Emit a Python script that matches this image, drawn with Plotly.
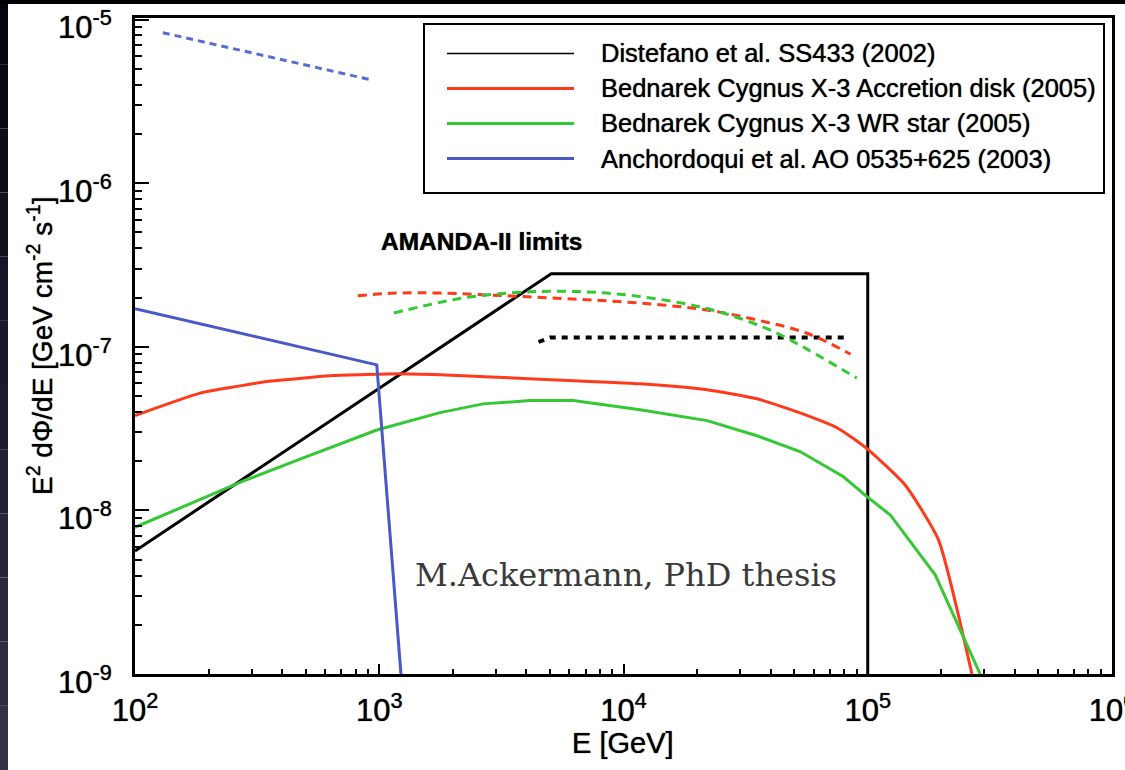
import plotly.graph_objects as go

# ---------------- data ----------------
series_names = [
    "Distefano et al. SS433 (2002)",
    "Bednarek Cygnus X-3 Accretion disk (2005)",
    "Bednarek Cygnus X-3 WR star (2005)",
    "Anchordoqui et al. AO 0535+625 (2003)",
]

# Distefano et al. SS433 model (black solid)
distefano_E = [100, 5060, 1.0e5, 1.0e5]
distefano_F = [5.65e-9, 2.80e-7, 2.80e-7, 1.0e-9]

# Bednarek Cygnus X-3 accretion disk (red solid)
disk_E = [100, 184.6, 266, 346, 520, 647, 1216, 1774, 4550, 11690, 21990, 35200,
          52800, 74900, 99500, 142300, 194800, 267000]
disk_F = [3.80e-8, 5.21e-8, 5.75e-8, 6.14e-8, 6.50e-8, 6.68e-8, 6.84e-8, 6.74e-8,
          6.34e-8, 5.94e-8, 5.46e-8, 4.81e-8, 3.95e-8, 3.20e-8, 2.38e-8, 1.43e-8,
          6.61e-9, 1.0e-9]

# Bednarek Cygnus X-3 WR star (green solid)
wr_E = [100, 184.6, 286, 474, 977, 1774, 2662, 4145, 6220, 11690, 21990, 35200,
        52800, 79300, 99500, 123700, 188900, 288600]
wr_F = [7.89e-9, 1.16e-8, 1.54e-8, 2.06e-8, 3.10e-8, 3.96e-8, 4.48e-8, 4.69e-8,
        4.69e-8, 4.12e-8, 3.54e-8, 2.86e-8, 2.29e-8, 1.61e-8, 1.21e-8, 9.38e-9,
        4.04e-9, 1.0e-9]

# Anchordoqui et al. AO 0535+625 (blue solid)
anch_E = [100, 977, 1227]
anch_F = [1.71e-7, 7.76e-8, 1.0e-9]

# AMANDA-II limits (dashed / dotted)
lim_distefano_E = [4490, 5000, 83300]
lim_distefano_F = [1.07e-7, 1.14e-7, 1.14e-7]

lim_disk_E = [817, 1167, 1774, 3327, 6220, 11690, 21930, 35150, 56400, 85100]
lim_disk_F = [2.05e-7, 2.13e-7, 2.13e-7, 2.05e-7, 1.96e-7, 1.85e-7, 1.68e-7,
              1.46e-7, 1.21e-7, 9.01e-8]

lim_wr_E = [1148, 1774, 2428, 4550, 8540, 16000, 25600, 41100, 56400, 90200]
lim_wr_F = [1.61e-7, 1.87e-7, 2.03e-7, 2.18e-7, 2.13e-7, 1.89e-7, 1.61e-7,
            1.24e-7, 9.68e-8, 6.44e-8]

lim_anch_E = [130, 916]
lim_anch_F = [8.32e-6, 4.30e-6]

x_tick_vals = [1e2, 1e3, 1e4, 1e5, 1e6]
x_tick_text = ["10<sup>2</sup>", "10<sup>3</sup>", "10<sup>4</sup>", "10<sup>5</sup>", "10<sup>6</sup>"]
y_tick_vals = [1e-9, 1e-8, 1e-7, 1e-6, 1e-5]
y_tick_text = ["10<sup>-9</sup>", "10<sup>-8</sup>", "10<sup>-7</sup>", "10<sup>-6</sup>", "10<sup>-5</sup>"]

# ---------------- styling ----------------
W, H = 1125, 770
ML, MR, MT, MB = 135, 13, 18, 96
PW, PH = W - ML - MR, H - MT - MB
FONT = "Liberation Sans, Arial, Helvetica, sans-serif"
HEAVY = "0px 0px 1px rgba(0,0,0,0.9)"

BLACK = "#000000"
RED = "rgb(255,58,28)"
GREEN = "rgb(52,200,52)"
BLUE = "rgb(72,88,200)"
BLUE_D = "rgb(88,108,212)"
colors = [BLACK, RED, GREEN, BLUE]


def fx(px):
    return (px - ML) / PW


def fy(py):
    return (H - MB - py) / PH


fig = go.Figure()

# model curves
fig.add_trace(go.Scatter(x=distefano_E, y=distefano_F, mode="lines", name=series_names[0],
                         line=dict(color=BLACK, width=3), showlegend=False))
fig.add_trace(go.Scatter(x=disk_E, y=disk_F, mode="lines", name=series_names[1],
                         line=dict(color=RED, width=3, shape="spline", smoothing=0.5),
                         showlegend=False))
fig.add_trace(go.Scatter(x=wr_E, y=wr_F, mode="lines", name=series_names[2],
                         line=dict(color=GREEN, width=3), showlegend=False))
fig.add_trace(go.Scatter(x=anch_E, y=anch_F, mode="lines", name=series_names[3],
                         line=dict(color=BLUE, width=3), showlegend=False))

# AMANDA-II limits
fig.add_trace(go.Scatter(x=lim_distefano_E, y=lim_distefano_F, mode="lines",
                         name="AMANDA-II limit SS433",
                         line=dict(color=BLACK, width=4, dash="6px,6px"), showlegend=False))
fig.add_trace(go.Scatter(x=lim_disk_E, y=lim_disk_F, mode="lines", line_shape="spline",
                         name="AMANDA-II limit Cyg X-3 disk",
                         line=dict(color=RED, width=3, dash="9px,6px"), showlegend=False))
fig.add_trace(go.Scatter(x=lim_wr_E, y=lim_wr_F, mode="lines", line_shape="spline",
                         name="AMANDA-II limit Cyg X-3 WR",
                         line=dict(color=GREEN, width=3, dash="9px,6px"), showlegend=False))
fig.add_trace(go.Scatter(x=lim_anch_E, y=lim_anch_F, mode="lines",
                         name="AMANDA-II limit AO 0535+625",
                         line=dict(color=BLUE_D, width=3, dash="7px,5px"), showlegend=False))

shapes = []
annotations = []

# dark edge strips of the slide (decoration)
n_strip = 12
for i in range(n_strip):
    t = i / (n_strip - 1)
    c = "rgb(%d,%d,%d)" % (int(5 + 45 * t), int(5 + 45 * t), int(15 + 55 * t))
    shapes.append(dict(type="rect", xref="paper", yref="paper", layer="above",
                       x0=fx(0), x1=fx(8), y0=fy(H * (i + 1) / n_strip), y1=fy(H * i / n_strip),
                       line=dict(width=0), fillcolor=c))
shapes.append(dict(type="rect", xref="paper", yref="paper", layer="above",
                   x0=fx(0), x1=fx(W), y0=fy(4), y1=fy(0), line=dict(width=0), fillcolor="black"))

# legend box
shapes.append(dict(type="rect", xref="paper", yref="paper", layer="above",
                   x0=fx(424), x1=fx(1104), y0=fy(193), y1=fy(24),
                   line=dict(color=BLACK, width=2), fillcolor="rgba(0,0,0,0)"))
leg_widths = [1.5, 3, 3, 3]
for i, (nm, c) in enumerate(zip(series_names, colors)):
    yy = 53.5 + i * 35
    shapes.append(dict(type="line", xref="paper", yref="paper", layer="above",
                       x0=fx(447), x1=fx(574), y0=fy(yy), y1=fy(yy),
                       line=dict(color=c, width=leg_widths[i])))
    annotations.append(dict(xref="paper", yref="paper", x=fx(599), y=fy(yy),
                            xanchor="left", yanchor="middle", showarrow=False, text=nm,
                            font=dict(family=FONT, size=25.5, color=BLACK, shadow=HEAVY)))

annotations.append(dict(xref="paper", yref="paper", x=fx(379), y=fy(242),
                        xanchor="left", yanchor="middle", showarrow=False,
                        text="<b>AMANDA-II limits</b>",
                        font=dict(family=FONT, size=24.5, color=BLACK, shadow=HEAVY)))
annotations.append(dict(xref="paper", yref="paper", x=fx(413), y=fy(575),
                        xanchor="left", yanchor="middle", showarrow=False,
                        text="M.Ackermann, PhD thesis",
                        font=dict(family="DejaVu Serif, serif", size=32, color="#3a3a3a")))

# axis titles
annotations.append(dict(xref="paper", yref="paper", x=fx(623), y=fy(743),
                        xanchor="center", yanchor="middle", showarrow=False,
                        text="E [GeV]",
                        font=dict(family=FONT, size=29, color=BLACK, shadow=HEAVY)))
annotations.append(dict(xref="paper", yref="paper", x=fx(40), y=fy(346),
                        xanchor="center", yanchor="middle", showarrow=False, textangle=-90,
                        text="E<sup>2</sup> dΦ/dE [GeV cm<sup>-2</sup> s<sup>-1</sup>]",
                        font=dict(family=FONT, size=28, color=BLACK, shadow=HEAVY)))

x_minor = [k * v for v in x_tick_vals[:-1] for k in range(2, 10)]
y_minor = [k * v for v in y_tick_vals[:-1] for k in range(2, 10)]

fig.update_layout(
    width=W, height=H,
    margin=dict(l=ML, r=MR, t=MT, b=MB, autoexpand=False),
    paper_bgcolor="white", plot_bgcolor="white",
    showlegend=False,
    shapes=shapes, annotations=annotations,
    font=dict(family=FONT, color=BLACK),
    xaxis=dict(type="log", range=[2, 6], tickmode="array", tickvals=x_tick_vals,
               ticktext=x_tick_text, ticks="inside", ticklen=10, tickwidth=2,
               tickcolor=BLACK, showgrid=False, zeroline=False, showline=True,
               mirror=True, linewidth=3, linecolor=BLACK, ticklabeloverflow="allow",
               tickfont=dict(family=FONT, size=31, color=BLACK, shadow=HEAVY),
               ticklabelstandoff=7,
               minor=dict(tickmode="array", tickvals=x_minor, ticks="inside", ticklen=5,
                          tickwidth=2, tickcolor=BLACK, showgrid=False)),
    yaxis=dict(type="log", range=[-9, -4.99], tickmode="array", tickvals=y_tick_vals,
               ticktext=y_tick_text, ticks="inside", ticklen=14, tickwidth=2,
               tickcolor=BLACK, showgrid=False, zeroline=False, showline=True,
               mirror=True, linewidth=3, linecolor=BLACK, ticklabeloverflow="allow",
               tickfont=dict(family=FONT, size=31, color=BLACK, shadow=HEAVY),
               ticklabelstandoff=14, ticklabelshift=8,
               minor=dict(tickmode="array", tickvals=y_minor, ticks="inside", ticklen=7,
                          tickwidth=2, tickcolor=BLACK, showgrid=False)),
)

fig.write_html("out.html")
